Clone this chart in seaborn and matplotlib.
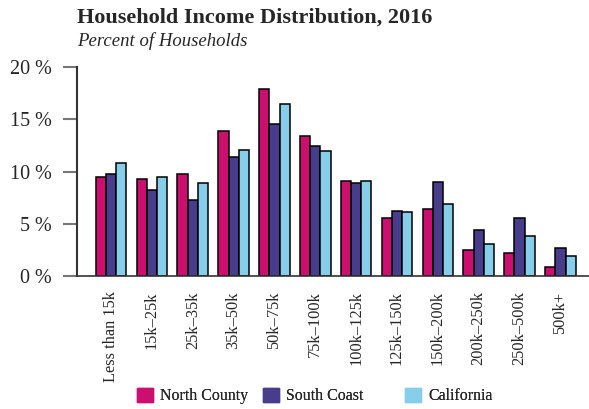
import pandas as pd
import matplotlib.pyplot as plt
import seaborn as sns

# datos
categories = ['Less than 15k', '15k\u201325k', '25k\u201335k', '35k\u201350k', '50k\u201375k',
              '75k\u2013100k', '100k\u2013125k', '125k\u2013150k', '150k\u2013200k',
              '200k\u2013250k', '250k\u2013500k', '500k+']
north_county = [9.5, 9.3, 9.8, 13.9, 17.9, 13.4, 9.1, 5.6, 6.4, 2.5, 2.2, 0.9]
south_coast = [9.8, 8.2, 7.3, 11.4, 14.6, 12.4, 8.9, 6.2, 9.0, 4.4, 5.6, 2.7]
california = [10.8, 9.5, 8.9, 12.1, 16.5, 12.0, 9.1, 6.1, 6.9, 3.1, 3.8, 1.9]
regions = ['North County', 'South Coast', 'California']
colors = ['#CC0F6E', '#483D8B', '#87CEEB']

df = pd.DataFrame({'income': categories * 3,
                   'region': [r for r in regions for _ in categories],
                   'pct': north_county + south_coast + california})

sns.set_style('white')
plt.rcParams['font.family'] = ['Liberation Serif', 'DejaVu Serif']

fig = plt.figure(figsize=(5.89, 4.09), dpi=100)
ax = fig.add_axes([0.131, 0.325, 0.869, 0.511])

sns.barplot(data=df, x='income', y='pct', hue='region', palette=colors,
            saturation=1, width=0.75, edgecolor='black', linewidth=1.1, ax=ax)

ax.set_ylim(0, 20)
ax.set_xlim(-0.83, 11.7)
ax.set_yticks([0, 5, 10, 15, 20])
ax.set_yticklabels(['0 %', '5 %', '10 %', '15 %', '20 %'], fontsize=14.5)
ax.set_xticks(range(len(categories)))
ax.set_xticklabels(categories, rotation=90, fontsize=11.8, va='top')
ax.tick_params(axis='y', length=10, width=1.5, color='#777777', pad=8, left=True)
ax.tick_params(axis='x', length=0, pad=11)
ax.set_xlabel('')
ax.set_ylabel('')
for s in ['top', 'right']:
    ax.spines[s].set_visible(False)
ax.spines['left'].set_color('#333333')
ax.spines['left'].set_linewidth(1.5)
ax.spines['bottom'].set_color('#333333')
ax.spines['bottom'].set_linewidth(1.2)

fig.text(0.131, 0.945, 'Household Income Distribution, 2016', fontsize=16,
         fontweight='bold', ha='left', va='baseline')
fig.text(0.131, 0.888, 'Percent of Households', fontsize=13.5,
         style='italic', ha='left', va='baseline')

ax.get_legend().remove()
# cada entrada de la leyenda en su sitio
legend_x = [0.233, 0.447, 0.688]
for reg, col, lx in zip(regions, colors, legend_x):
    h = plt.Rectangle((0, 0), 1, 1, color=col)
    lg = fig.legend([h], [reg], loc='center left', bbox_to_anchor=(lx, 0.032),
                    frameon=False, fontsize=11.4, handlelength=1.0, handleheight=1.0,
                    handletextpad=0.45, borderpad=0, borderaxespad=0)
    fig.add_artist(lg)

fig.savefig('out.png', dpi=100)
